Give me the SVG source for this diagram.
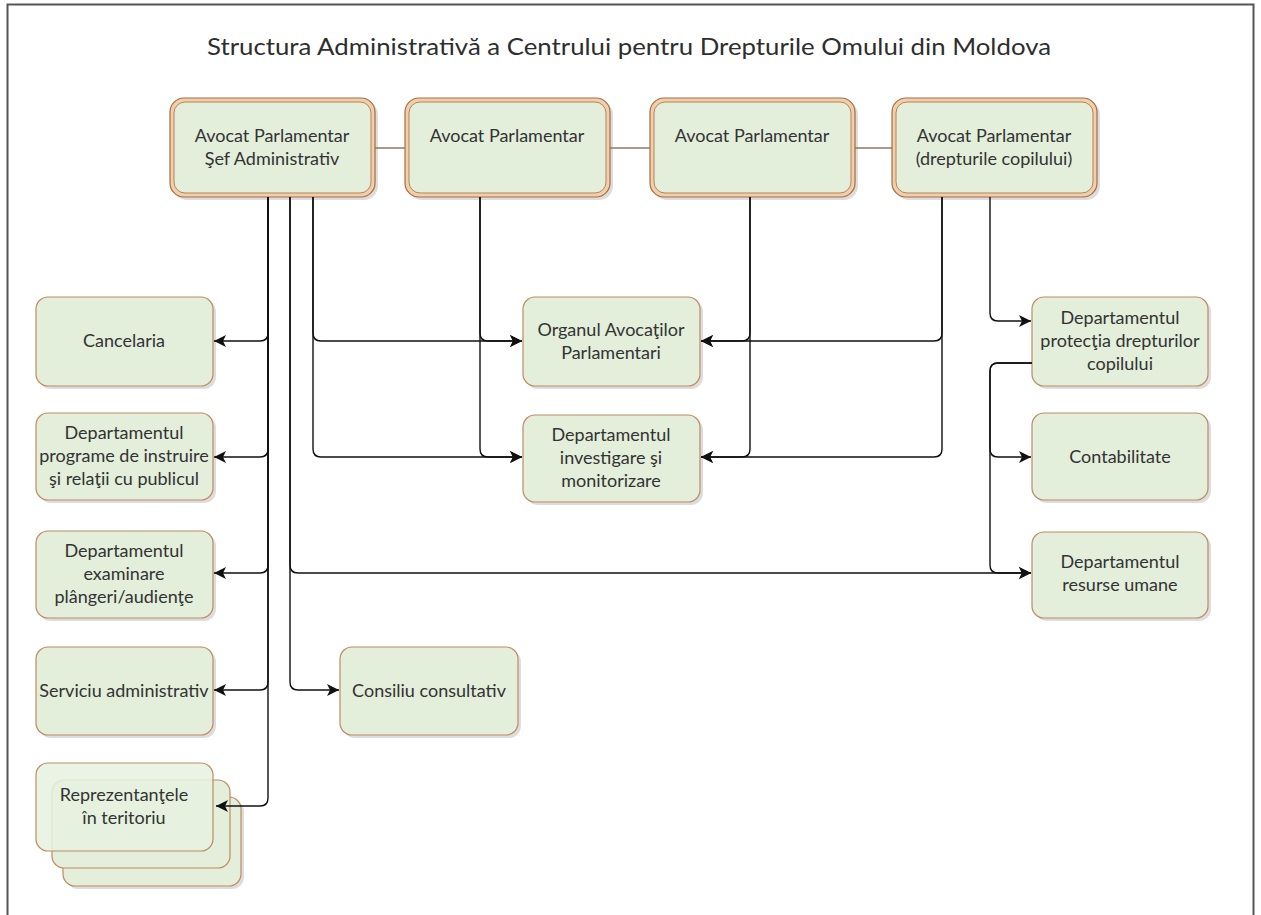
<svg xmlns="http://www.w3.org/2000/svg" width="1261" height="915" viewBox="0 0 1261 915">
<style>
.t{font-family:Lato,"Open Sans","Liberation Sans",sans-serif;font-size:18px;fill:#333;text-anchor:middle}
.title{font-family:Lato,"Open Sans","Liberation Sans",sans-serif;font-size:24px;fill:#2e2e2e;text-anchor:middle}
.box{fill:#e3eedb;stroke:#c28a62;stroke-width:1.2}
.sh{fill:#cfcfcf;opacity:0.7}
.outer{fill:#f0d0ac;stroke:#a96c40;stroke-width:1.2}
.inner{fill:#e3eedb;stroke:#b98157;stroke-width:1}
.a{fill:none;stroke:#111;stroke-width:1.4;marker-end:url(#arr)}
.tl{fill:none;stroke:#8c7a6a;stroke-width:1.4}
</style>
<defs>
<marker id="arr" markerWidth="14" markerHeight="12" refX="12" refY="6" orient="auto" markerUnits="userSpaceOnUse">
<path d="M0,0 L12,6 L0,12 L3,6 Z" fill="#111"/>
</marker>
</defs>
<rect x="0" y="0" width="1261" height="915" fill="#fff"/>
<rect x="7.5" y="4.5" width="1246" height="920" fill="none" stroke="#555" stroke-width="2"/>
<text class="title" x="629" y="55" textLength="844" lengthAdjust="spacingAndGlyphs">Structura Administrativă a Centrului pentru Drepturile Omului din Moldova</text>

<g id="n-avocat-sef">
<rect class="sh" x="173" y="101" width="205" height="99" rx="14"/>
<rect class="outer" x="170" y="98" width="205" height="99" rx="14"/>
<rect class="inner" x="174" y="102" width="197" height="91" rx="11"/>
<text class="t" x="272" y="142">Avocat Parlamentar</text>
<text class="t" x="272" y="165">Şef Administrativ</text>
</g>
<g id="n-avocat-2">
<rect class="sh" x="408" y="101" width="205" height="99" rx="14"/>
<rect class="outer" x="405" y="98" width="205" height="99" rx="14"/>
<rect class="inner" x="409" y="102" width="197" height="91" rx="11"/>
<text class="t" x="507" y="142">Avocat Parlamentar</text>
</g>
<g id="n-avocat-3">
<rect class="sh" x="653" y="101" width="205" height="99" rx="14"/>
<rect class="outer" x="650" y="98" width="205" height="99" rx="14"/>
<rect class="inner" x="654" y="102" width="197" height="91" rx="11"/>
<text class="t" x="752" y="142">Avocat Parlamentar</text>
</g>
<g id="n-avocat-copil">
<rect class="sh" x="895" y="101" width="205" height="99" rx="14"/>
<rect class="outer" x="892" y="98" width="205" height="99" rx="14"/>
<rect class="inner" x="896" y="102" width="197" height="91" rx="11"/>
<text class="t" x="994" y="142">Avocat Parlamentar</text>
<text class="t" x="994" y="165">(drepturile copilului)</text>
</g>

<g id="n-cancelaria">
<rect class="sh" x="39" y="300" width="177" height="89" rx="12"/>
<rect class="box" x="36" y="297" width="177" height="89" rx="12"/>
<text class="t" x="124" y="347">Cancelaria</text>
</g>
<g id="n-programe">
<rect class="sh" x="39" y="416" width="177" height="87" rx="12"/>
<rect class="box" x="36" y="413" width="177" height="87" rx="12"/>
<text class="t" x="124" y="439">Departamentul</text>
<text class="t" x="124" y="462">programe de instruire</text>
<text class="t" x="124" y="485">şi relaţii cu publicul</text>
</g>
<g id="n-examinare">
<rect class="sh" x="39" y="534" width="177" height="87" rx="12"/>
<rect class="box" x="36" y="531" width="177" height="87" rx="12"/>
<text class="t" x="124" y="557">Departamentul</text>
<text class="t" x="124" y="580">examinare</text>
<text class="t" x="124" y="603">plângeri/audienţe</text>
</g>
<g id="n-serviciu">
<rect class="sh" x="39" y="650" width="177" height="88" rx="12"/>
<rect class="box" x="36" y="647" width="177" height="88" rx="12"/>
<text class="t" x="124" y="697">Serviciu administrativ</text>
</g>
<g id="n-reprezentante">
<rect class="sh" x="66" y="800" width="178" height="89" rx="12"/>
<rect class="box" x="63" y="797" width="178" height="89" rx="12"/>
<rect class="box" x="52" y="780" width="178" height="88" rx="12"/>
<rect class="box" x="36" y="763" width="177" height="88" rx="12" style="fill:#e6f2df;fill-opacity:0.85"/>
<text class="t" x="124" y="801">Reprezentanţele</text>
<text class="t" x="124" y="824">în teritoriu</text>
</g>

<g id="n-organul">
<rect class="sh" x="526" y="300" width="177" height="89" rx="12"/>
<rect class="box" x="523" y="297" width="177" height="89" rx="12"/>
<text class="t" x="611" y="336">Organul Avocaţilor</text>
<text class="t" x="611" y="359">Parlamentari</text>
</g>
<g id="n-investigare">
<rect class="sh" x="526" y="418" width="177" height="87" rx="12"/>
<rect class="box" x="523" y="415" width="177" height="87" rx="12"/>
<text class="t" x="611" y="441">Departamentul</text>
<text class="t" x="611" y="464">investigare şi</text>
<text class="t" x="611" y="487">monitorizare</text>
</g>
<g id="n-consiliu">
<rect class="sh" x="343" y="650" width="178" height="88" rx="12"/>
<rect class="box" x="340" y="647" width="178" height="88" rx="12"/>
<text class="t" x="429" y="697">Consiliu consultativ</text>
</g>

<g id="n-protectia">
<rect class="sh" x="1035" y="300" width="176" height="89" rx="12"/>
<rect class="box" x="1032" y="297" width="176" height="89" rx="12"/>
<text class="t" x="1120" y="324">Departamentul</text>
<text class="t" x="1120" y="347">protecţia drepturilor</text>
<text class="t" x="1120" y="370">copilului</text>
</g>
<g id="n-contabilitate">
<rect class="sh" x="1035" y="416" width="176" height="87" rx="12"/>
<rect class="box" x="1032" y="413" width="176" height="87" rx="12"/>
<text class="t" x="1120" y="463">Contabilitate</text>
</g>
<g id="n-resurse">
<rect class="sh" x="1035" y="535" width="176" height="86" rx="12"/>
<rect class="box" x="1032" y="532" width="176" height="86" rx="12"/>
<text class="t" x="1120" y="568">Departamentul</text>
<text class="t" x="1120" y="591">resurse umane</text>
</g>

<g id="connectors">
<path class="tl" d="M375,148 H405 M610,148 H650 M855,148 H892"/>
<path class="a" d="M268,197 V333 Q268,341 260,341 H214"/>
<path class="a" d="M268,197 V449 Q268,457 260,457 H214"/>
<path class="a" d="M268,197 V565 Q268,573 260,573 H214"/>
<path class="a" d="M268,197 V682 Q268,690 260,690 H214"/>
<path class="a" d="M268,197 V798 Q268,806 260,806 H216"/>
<path class="a" d="M290,197 V565 Q290,573 298,573 H1031"/>
<path class="a" d="M290,197 V682 Q290,690 298,690 H339"/>
<path class="a" d="M313,197 V333 Q313,341 321,341 H522"/>
<path class="a" d="M313,197 V449 Q313,457 321,457 H522"/>
<path class="a" d="M480,197 V333 Q480,341 488,341 H522"/>
<path class="a" d="M480,197 V449 Q480,457 488,457 H522"/>
<path class="a" d="M750,197 V333 Q750,341 742,341 H701"/>
<path class="a" d="M750,197 V449 Q750,457 742,457 H701"/>
<path class="a" d="M942,197 V333 Q942,341 934,341 H701"/>
<path class="a" d="M942,197 V449 Q942,457 934,457 H701"/>
<path class="a" d="M990,197 V313 Q990,321 998,321 H1031"/>
<path class="a" d="M1032,363 H998 Q990,363 990,371 V449 Q990,457 998,457 H1031"/>
<path class="a" d="M1032,363 H998 Q990,363 990,371 V565 Q990,573 998,573 H1031"/>
</g>
</svg>
